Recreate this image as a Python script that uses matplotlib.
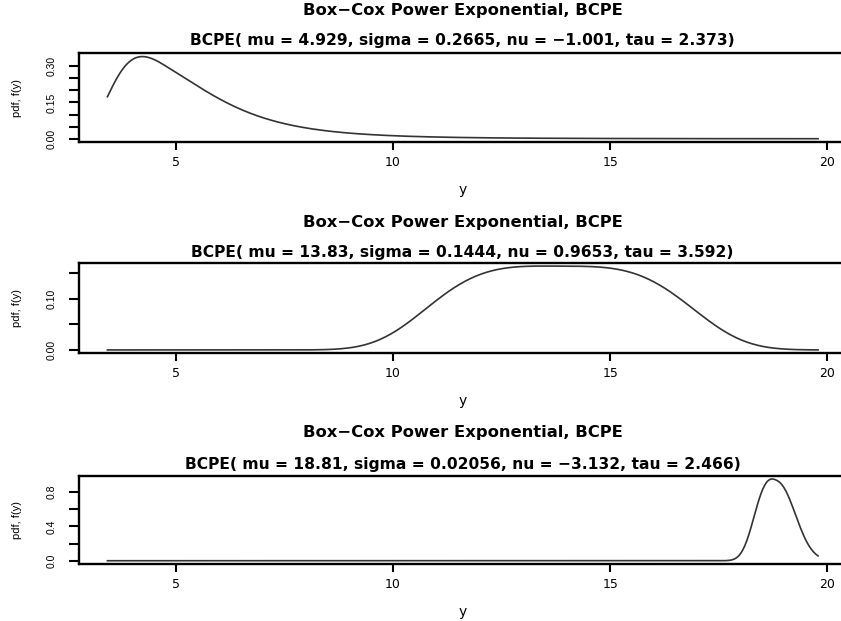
import math
import numpy as np
import matplotlib
matplotlib.use("Agg")
import matplotlib.pyplot as plt

plt.rcParams['font.family'] = ['DejaVu Sans']

# Fitted BCPE parameters, one panel per set
mu_vals = [4.929, 13.83, 18.81]
sigma_vals = [0.2665, 0.1444, 0.02056]
nu_vals = [-1.001, 0.9653, -3.132]
tau_vals = [2.373, 3.592, 2.466]
mu_txt = ["4.929", "13.83", "18.81"]
sigma_txt = ["0.2665", "0.1444", "0.02056"]
nu_txt = ["\u22121.001", "0.9653", "\u22123.132"]
tau_txt = ["2.373", "3.592", "2.466"]

# Range of the response
y_min, y_max = 3.42, 19.79

x_ticks = [5, 10, 15, 20]
y_ticks = [[0.00, 0.05, 0.10, 0.15, 0.20, 0.25, 0.30],
           [0.00, 0.05, 0.10, 0.15],
           [0.0, 0.2, 0.4, 0.6, 0.8]]
y_ticklabels = [["0.00", "", "", "0.15", "", "", "0.30"],
                ["0.00", "", "0.10", ""],
                ["0.0", "", "0.4", "", "0.8"]]

family_title = "Box\u2212Cox Power Exponential, BCPE"

narrow = ['Liberation Sans', 'DejaVu Sans']


def lower_reg_gamma(a, x):
    """Regularised lower incomplete gamma P(a, x) by series."""
    if x <= 0:
        return 0.0
    if x > 200:
        return 1.0
    term = 1.0 / a
    total = term
    n = 1
    while n < 5000:
        term *= x / (a + n)
        total += term
        if term < total * 1e-15:
            break
        n += 1
    return total * math.exp(-x + a * math.log(x) - math.lgamma(a))


def pe_c(tau):
    return math.exp(0.5 * (-(2.0 / tau) * math.log(2.0)
                           + math.lgamma(1.0 / tau) - math.lgamma(3.0 / tau)))


def pe_cdf(t, tau):
    c = pe_c(tau)
    s = 0.5 * (abs(t) / c) ** tau
    fs = lower_reg_gamma(1.0 / tau, s)
    return 0.5 * (1.0 + fs * np.sign(t))


def dbcpe(y, mu, sigma, nu, tau):
    if nu != 0:
        z = ((y / mu) ** nu - 1.0) / (nu * sigma)
    else:
        z = np.log(y / mu) / sigma
    c = pe_c(tau)
    log_fz = (math.log(tau) - math.log(c) - 0.5 * np.abs(z / c) ** tau
              - (1.0 + 1.0 / tau) * math.log(2.0) - math.lgamma(1.0 / tau))
    log_der = (nu - 1.0) * np.log(y) - nu * math.log(mu) - math.log(sigma)
    return np.exp(log_der + log_fz - math.log(pe_cdf(1.0 / (sigma * abs(nu)), tau)))


W, H = 841, 621
fig = plt.figure(figsize=(W / 100, H / 100), dpi=100)


def fx(px):
    return px / W


def fy(py):
    return 1.0 - py / H


# pixel boxes (top, bottom) of each panel and title rows
panel_tb = [(53.3, 142.0), (262.7, 353.3), (475.7, 564.0)]
title_rows = [(11, 40), (222, 253), (433, 464)]
left_px, right_px = 79.0, 846.5

y_grid = np.linspace(y_min, y_max, 400)
x_pad = 0.04 * (y_max - y_min)

for i in range(3):
    top, bot = panel_tb[i]
    ax = fig.add_axes([fx(left_px), fy(bot), fx(right_px - left_px), (bot - top) / H])
    pdf = dbcpe(y_grid, mu_vals[i], sigma_vals[i], nu_vals[i], tau_vals[i])
    ax.plot(y_grid, pdf, color="#333333", lw=1.2)
    ax.set_xlim(y_min - x_pad, y_max + x_pad)
    lo, hi = pdf.min(), pdf.max()
    pad = 0.04 * (hi - lo)
    ax.set_ylim(lo - pad, hi + pad)

    ax.set_xticks(x_ticks)
    ax.set_xticklabels([str(t) for t in x_ticks], fontsize=9)
    ax.set_yticks(y_ticks[i])
    ax.set_yticklabels(y_ticklabels[i], rotation=90, va="center",
                       family=narrow, fontsize=7.5)
    ax.tick_params(axis="x", direction="out", length=6, width=1.5, pad=4,
                   colors="black")
    ax.tick_params(axis="y", direction="out", length=7.5, width=1.5, pad=8.5,
                   colors="black")
    for sp in ax.spines.values():
        sp.set_linewidth(1.7)
        sp.set_color("black")

    fig.text(fx(17), fy((top + bot) / 2), "pdf, f(y)", rotation=90,
             ha="center", va="center", fontsize=8, family=narrow)
    fig.text(fx(462.5), fy(bot + 48), "y", ha="center", va="center", fontsize=10)

    t1, t2 = title_rows[i]
    fig.text(fx(462.5), fy(t1), family_title, ha="center", va="center",
             fontsize=11.8, fontweight="bold")
    sub = ("BCPE( mu = %s, sigma = %s, nu = %s, tau = %s)"
           % (mu_txt[i], sigma_txt[i], nu_txt[i], tau_txt[i]))
    fig.text(fx(462.5), fy(t2), sub, ha="center", va="center",
             fontsize=11.2, fontweight="bold")

fig.savefig("out.png", dpi=100)
